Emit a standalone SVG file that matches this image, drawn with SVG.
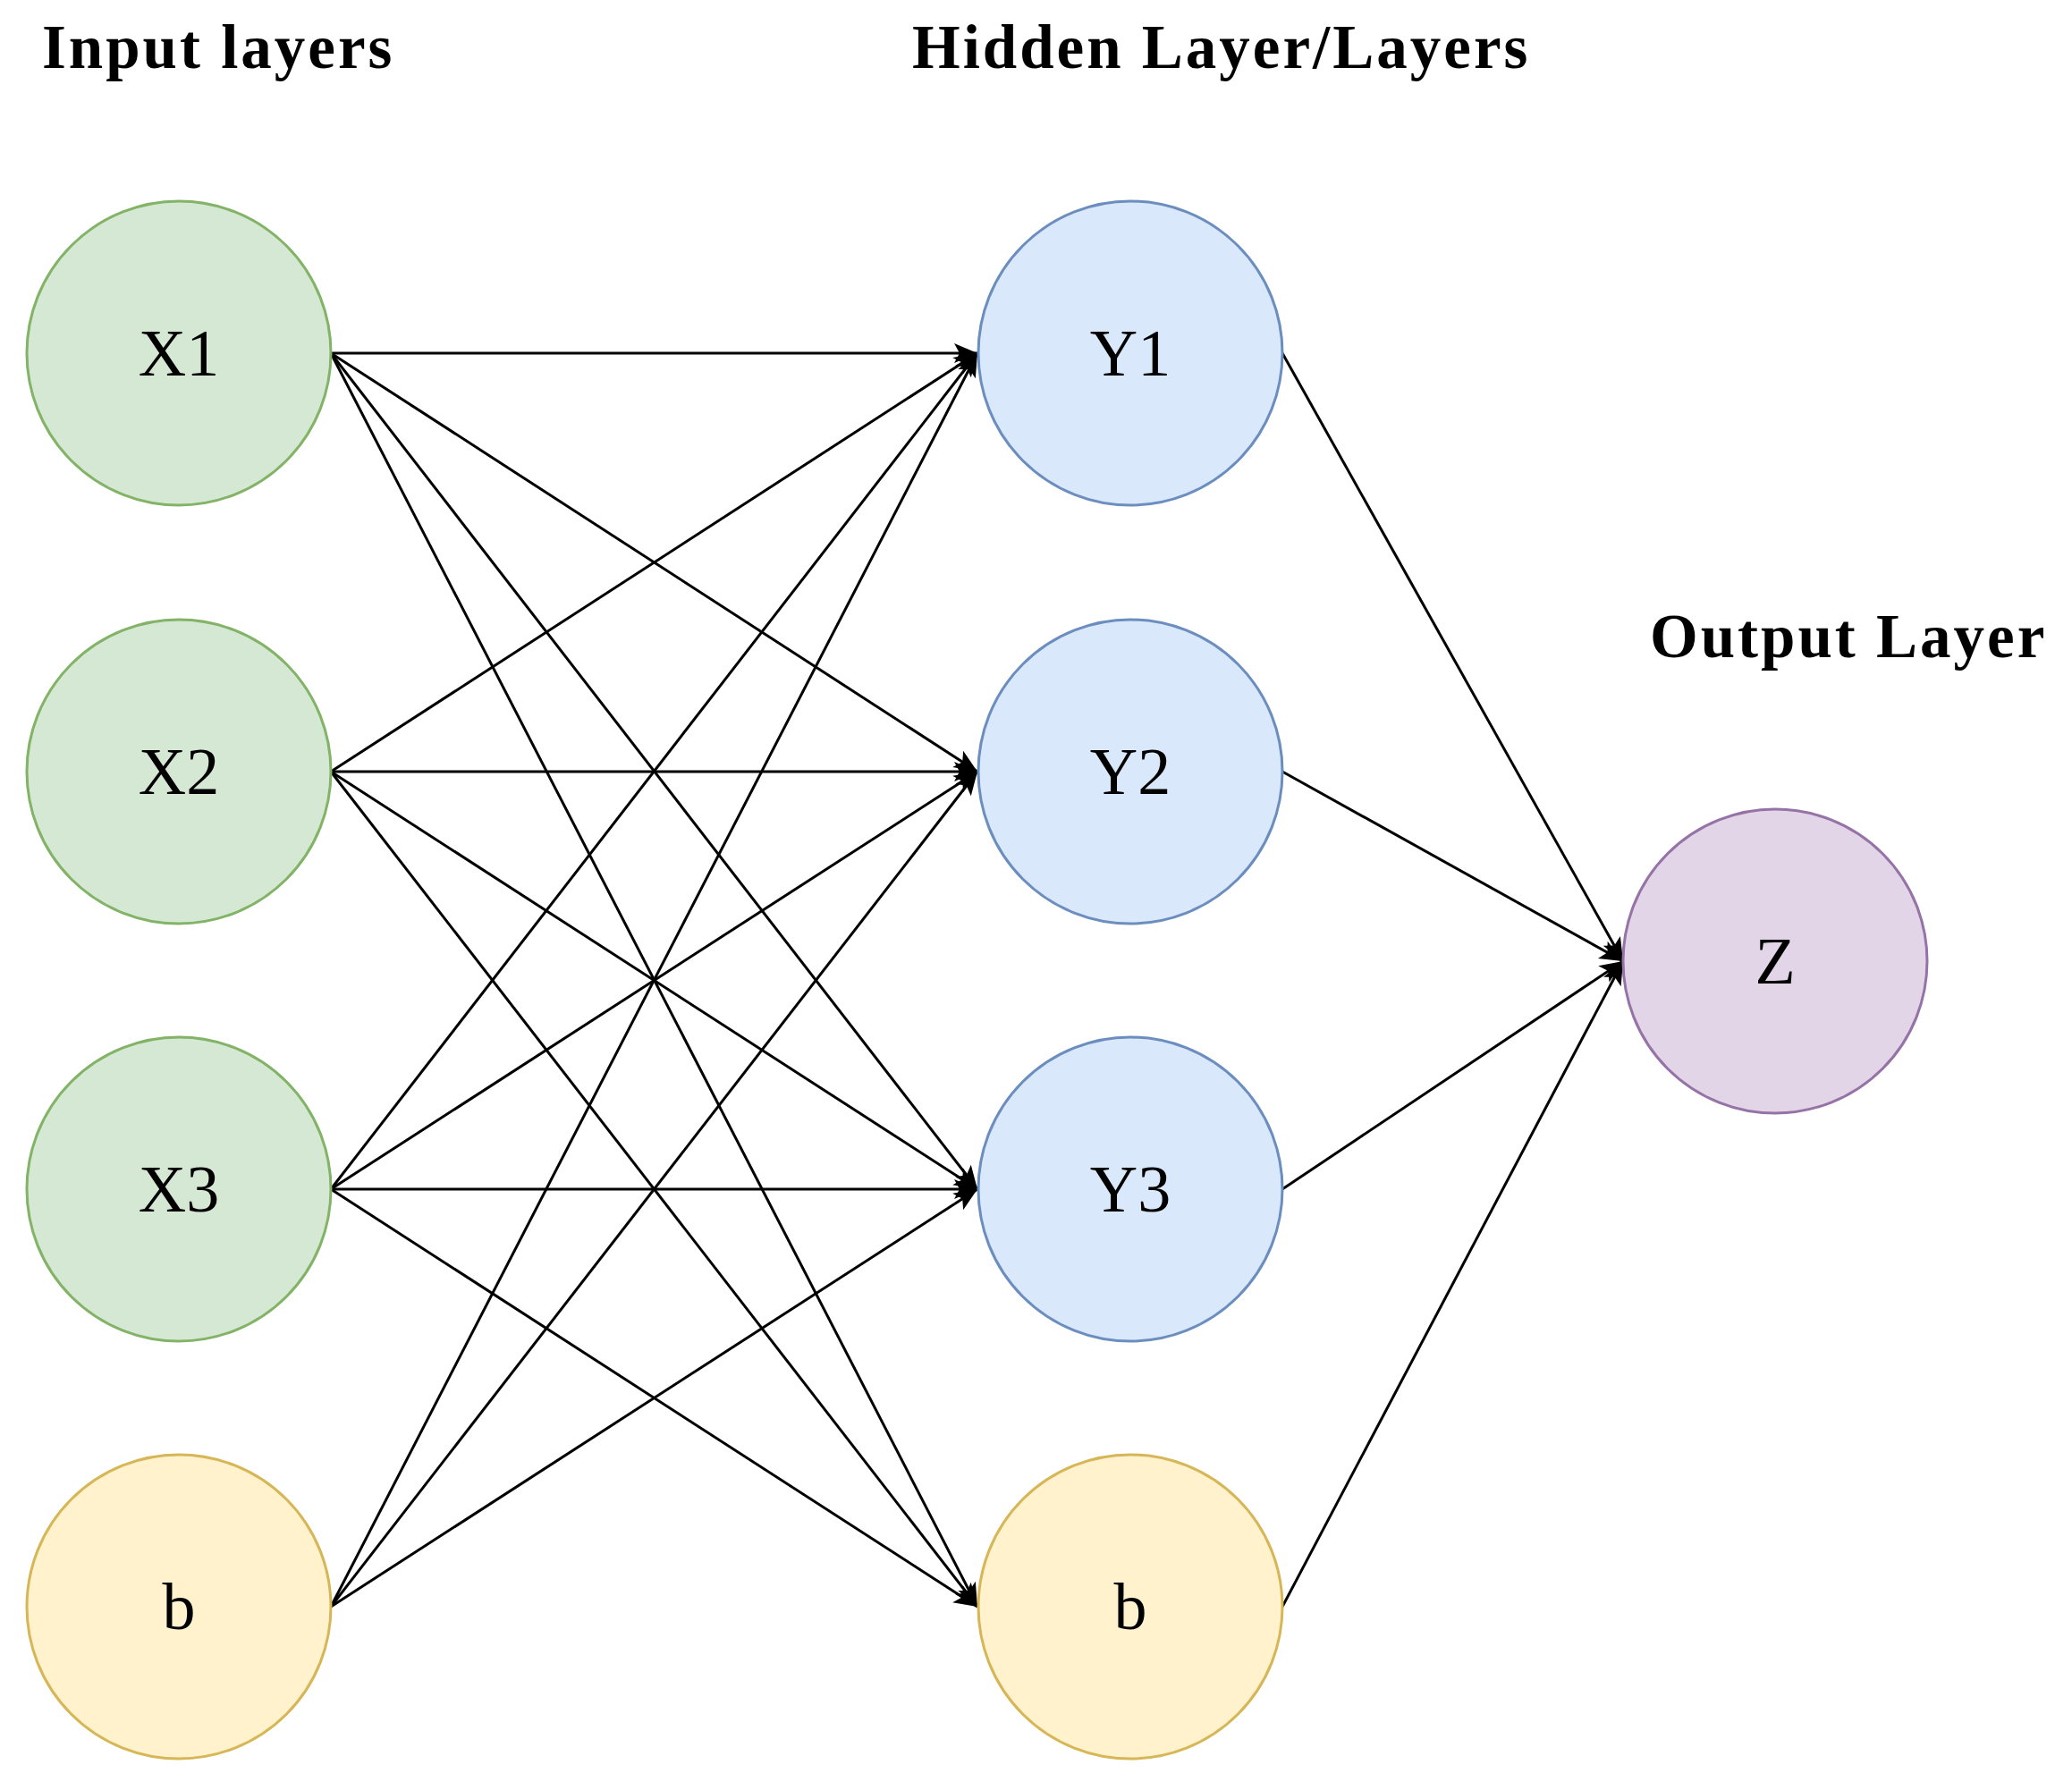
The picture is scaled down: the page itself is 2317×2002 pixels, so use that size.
<svg xmlns="http://www.w3.org/2000/svg" width="2317" height="2002" viewBox="0 0 2317 2002">
<style>
.t{font-family:"Liberation Serif",serif;font-weight:bold;font-size:69px;letter-spacing:3px;fill:#000}
.l{font-family:"Liberation Serif",serif;font-size:74px;fill:#000;text-anchor:middle;dominant-baseline:central}
.g{fill:#d5e8d4;stroke:#82b366;stroke-width:3}
.bl{fill:#dae8fc;stroke:#6c8ebf;stroke-width:3}
.y{fill:#fff2cc;stroke:#d6b656;stroke-width:3}
.p{fill:#e1d5e7;stroke:#9673a6;stroke-width:3}
#edges line{stroke:#000;stroke-width:3;marker-end:url(#a)}
</style>
<defs><marker id="a" viewBox="-30 -15 32 30" refX="0" refY="0" markerWidth="32" markerHeight="30" orient="auto" markerUnits="userSpaceOnUse"><path d="M-26,-11 L0,0 L-26,11 L-20,0 Z" fill="#000"/></marker></defs>
<rect width="2317" height="2002" fill="#fff"/>
<text class="t" x="47" y="76">Input layers</text>
<text class="t" x="1020" y="76">Hidden Layer/Layers</text>
<text class="t" x="1845" y="735">Output Layer</text>
<g id="edges">
<line x1="370" y1="395" x2="1093" y2="395"/><line x1="370" y1="395" x2="1093" y2="863"/><line x1="370" y1="395" x2="1093" y2="1330"/><line x1="370" y1="395" x2="1093" y2="1797"/>
<line x1="370" y1="863" x2="1093" y2="395"/><line x1="370" y1="863" x2="1093" y2="863"/><line x1="370" y1="863" x2="1093" y2="1330"/><line x1="370" y1="863" x2="1093" y2="1797"/>
<line x1="370" y1="1330" x2="1093" y2="395"/><line x1="370" y1="1330" x2="1093" y2="863"/><line x1="370" y1="1330" x2="1093" y2="1330"/><line x1="370" y1="1330" x2="1093" y2="1797"/>
<line x1="370" y1="1797" x2="1093" y2="395"/><line x1="370" y1="1797" x2="1093" y2="863"/><line x1="370" y1="1797" x2="1093" y2="1330"/>
<line x1="1434" y1="395" x2="1815" y2="1075"/><line x1="1434" y1="863" x2="1815" y2="1075"/><line x1="1434" y1="1330" x2="1815" y2="1075"/><line x1="1434" y1="1797" x2="1815" y2="1075"/>
</g>
<g id="x1"><circle class="g" cx="200" cy="395" r="170"/><text class="l" x="200" y="395">X1</text></g>
<g id="x2"><circle class="g" cx="200" cy="863" r="170"/><text class="l" x="200" y="863">X2</text></g>
<g id="x3"><circle class="g" cx="200" cy="1330" r="170"/><text class="l" x="200" y="1330">X3</text></g>
<g id="b1"><circle class="y" cx="200" cy="1797" r="170"/><text class="l" x="200" y="1797">b</text></g>
<g id="y1"><circle class="bl" cx="1264" cy="395" r="170"/><text class="l" x="1264" y="395">Y1</text></g>
<g id="y2"><circle class="bl" cx="1264" cy="863" r="170"/><text class="l" x="1264" y="863">Y2</text></g>
<g id="y3"><circle class="bl" cx="1264" cy="1330" r="170"/><text class="l" x="1264" y="1330">Y3</text></g>
<g id="b2"><circle class="y" cx="1264" cy="1797" r="170"/><text class="l" x="1264" y="1797">b</text></g>
<g id="z"><circle class="p" cx="1985" cy="1075" r="170"/><text class="l" x="1985" y="1075">Z</text></g>
</svg>
